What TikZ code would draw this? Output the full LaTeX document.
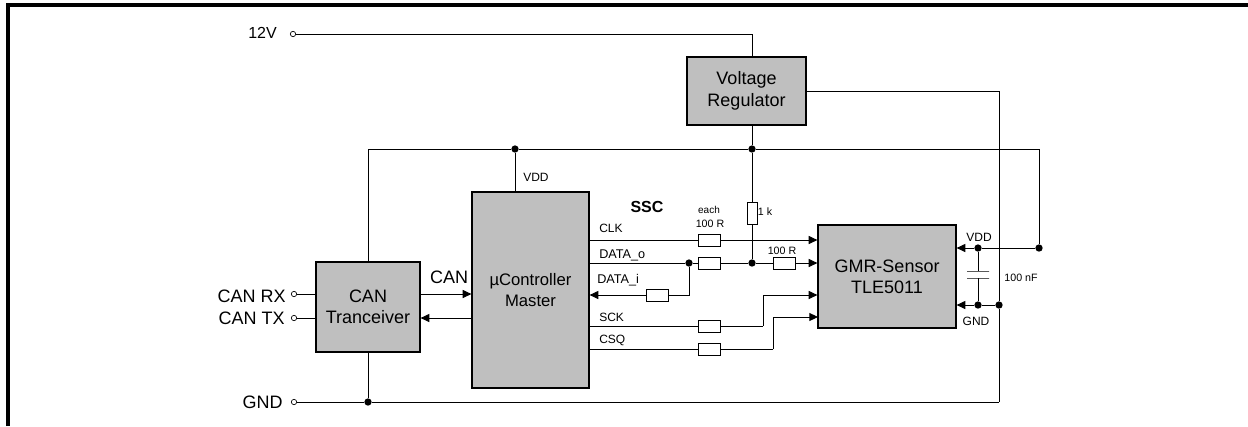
\documentclass[tikz,border=0pt]{standalone}
\usepackage{fontspec}
\setmainfont{Liberation Sans}
\usetikzlibrary{arrows.meta}
\tikzset{
	block/.style={draw, rectangle, fill=gray!50, line width=0.9pt, inner sep=0pt, align=center, font=\fontsize{13.5}{16}\selectfont},
	res/.style={draw, rectangle, fill=white, line width=0.7pt, inner sep=0pt, minimum width=16.5pt, minimum height=9pt},
	resv/.style={res, minimum width=7.5pt, minimum height=16.5pt},
	plate/.style={draw, rectangle, line width=0.7pt, inner sep=0pt, minimum width=16.5pt, minimum height=0pt},
	dot/.style={circle, fill=black, inner sep=0pt, minimum size=5.5pt},
	term/.style={draw, circle, fill=white, line width=0.5pt, inner sep=0pt, minimum size=4pt},
	big/.style={inner sep=0pt, font=\fontsize{13.5}{16}\selectfont},
	small/.style={inner sep=0pt, font=\fontsize{9}{11}\selectfont},
	tiny/.style={inner sep=0pt, font=\fontsize{8}{10}\selectfont},
	wire/.style={line width=0.7pt},
	sig/.style={wire, -{Triangle[length=6.5pt,width=6pt]}}
}
\begin{document}
\begin{tikzpicture}[x=0.75pt, y=-0.75pt]
	\useasboundingbox (0,0) rectangle (1248,426);
	\draw[line width=2.4pt] (8,426) -- (8,5) -- (1248,5);

	\node[block, minimum width=89.25pt, minimum height=51pt] (Reg)at(746.5, 91) {Voltage\\Regulator};
	\node[block, font=\fontsize{12.5}{16}\selectfont, minimum width=87.75pt, minimum height=147pt] (Master)at(530.5, 290) {µController\\Master};
	\node[block, minimum width=78pt, minimum height=67.5pt] (Can)at(368, 307) {CAN\\Tranceiver};
	\node[block, minimum width=103.5pt, minimum height=77.25pt] (Sensor)at(887, 276.5) {GMR-Sensor\\TLE5011};

	\node[term] (T12)at(293, 34) {};
	\node[term] (TRx)at(294, 294) {};
	\node[term] (TTx)at(294, 318) {};
	\node[term] (TGnd)at(294, 402) {};
	\node[big, font=\fontsize{12}{14}\selectfont, anchor=east] (L12)at(277, 33) {12V};
	\node[big, anchor=east] (LRx)at(286, 296) {CAN RX};
	\node[big, anchor=east] (LTx)at(285, 318) {CAN TX};
	\node[big, anchor=east] (LGnd)at(283, 402) {GND};
	\node[big] (LCan)at(449, 277) {CAN};

	\node[dot] (DBus)at(515, 149) {};
	\node[dot] (DReg)at(752, 149) {};
	\node[dot] (DGnd)at(368, 402) {};
	\node[dot] (DData)at(689, 263) {};
	\node[dot] (DPull)at(752, 263) {};
	\node[dot] (DVdd)at(978, 248) {};
	\node[dot] (DVddR)at(1039, 248) {};
	\node[dot] (DCap)at(978, 305) {};
	\node[dot] (DGndR)at(999, 305) {};

	\node[res] (RClk)at(709, 240) {};
	\node[res] (RData)at(709, 263) {};
	\node[res] (RDataB)at(784, 263) {};
	\node[res] (RIn)at(657, 295) {};
	\node[res] (RSck)at(709, 326) {};
	\node[res] (RCsq)at(709, 349) {};
	\node[resv] (RPull)at(752, 213) {};
	\node[plate] (CapA)at(978, 271) {};
	\node[plate] (CapB)at(978, 278) {};

	\coordinate (CTop)at(1039, 149);
	\coordinate (CGnd)at(999, 402);
	\coordinate (CSck)at(763, 326);
	\coordinate (CCsq)at(773, 349);

	% supply
	\draw[wire] (T12) -| (Reg.north -| DReg);
	\draw[wire] (Reg.east) -| (DGndR);
	\draw[wire] (DGndR) -- (CGnd);
	\draw[wire] (Reg.south -| DReg) -- (DReg);
	\draw[wire] (DReg) -- (RPull);
	\draw[wire] (RPull) -- (DPull);
	\draw[wire] (Can.north) |- (DBus);
	\draw[wire] (DBus) -- (DReg);
	\draw[wire] (DReg) -- (CTop) -- (DVddR);
	\draw[wire] (DBus) -- (Master.north -| DBus);
	\draw[wire] (TGnd) -- (DGnd);
	\draw[wire] (DGnd) -- (CGnd);
	\draw[wire] (Can.south) -- (DGnd);

	% CAN side
	\draw[wire] (TRx) -- (Can.west |- TRx);
	\draw[wire] (TTx) -- (Can.west |- TTx);
	\draw[sig] (Can.east |- TRx) -- (Master.west |- TRx);
	\draw[sig] (Master.west |- TTx) -- (Can.east |- TTx);

	% SSC
	\draw[wire] (Master.east |- RClk) -- (RClk);
	\draw[sig] (RClk) -- (Sensor.west |- RClk);
	\draw[wire] (Master.east |- DData) -- (DData);
	\draw[wire] (DData) -- (RData);
	\draw[wire] (RData) -- (DPull);
	\draw[wire] (DPull) -- (RDataB);
	\draw[sig] (RDataB) -- (Sensor.west |- RDataB);
	\draw[wire] (DData) |- (RIn);
	\draw[sig] (RIn) -- (Master.east |- RIn);
	\draw[wire] (Master.east |- RSck) -- (RSck);
	\draw[wire] (RSck) -- (CSck);
	\draw[sig] (CSck) |- (Sensor.west |- RIn);
	\draw[wire] (Master.east |- RCsq) -- (RCsq);
	\draw[wire] (RCsq) -- (CCsq);
	\draw[sig] (CCsq) |- (818, 317);

	% sensor side
	\draw[sig] (DVdd) -- (Sensor.east |- DVdd);
	\draw[wire] (DVddR) -- (DVdd);
	\draw[sig] (DCap) -- (Sensor.east |- DCap);
	\draw[wire] (DGndR) -- (DCap);
	\draw[wire] (DVdd) -- (CapA);
	\draw[wire] (DCap) -- (CapB);

	\node[small, anchor=west] (LVddM)at(523, 177) {VDD};
	\node[inner sep=0pt, font=\fontsize{12}{14}\selectfont\bfseries] (LSsc)at(647, 207) {SSC};
	\node[small, anchor=west] (LClk)at(599, 228) {CLK};
	\node[small, font=\fontsize{9.5}{11}\selectfont, anchor=west] (LDo)at(599, 255) {DATA\_o};
	\node[small, font=\fontsize{9.5}{11}\selectfont, anchor=west] (LDi)at(597, 280) {DATA\_i};
	\node[small, anchor=west] (LSck)at(599, 317) {SCK};
	\node[small, anchor=west] (LCsq)at(599, 340) {CSQ};
	\node[tiny, font=\fontsize{7.5}{9}\selectfont] (LEach)at(709, 210) {each};
	\node[tiny] (LRa)at(710, 224) {100 R};
	\node[tiny] (LRb)at(782, 251) {100 R};
	\node[tiny] (LPull)at(765, 212) {1 k};
	\node[small] (LVdd)at(979, 237) {VDD};
	\node[small] (LGndS)at(976, 321) {GND};
	\node[tiny] (LCap)at(1021, 278) {100 nF};
\end{tikzpicture}
\end{document}
